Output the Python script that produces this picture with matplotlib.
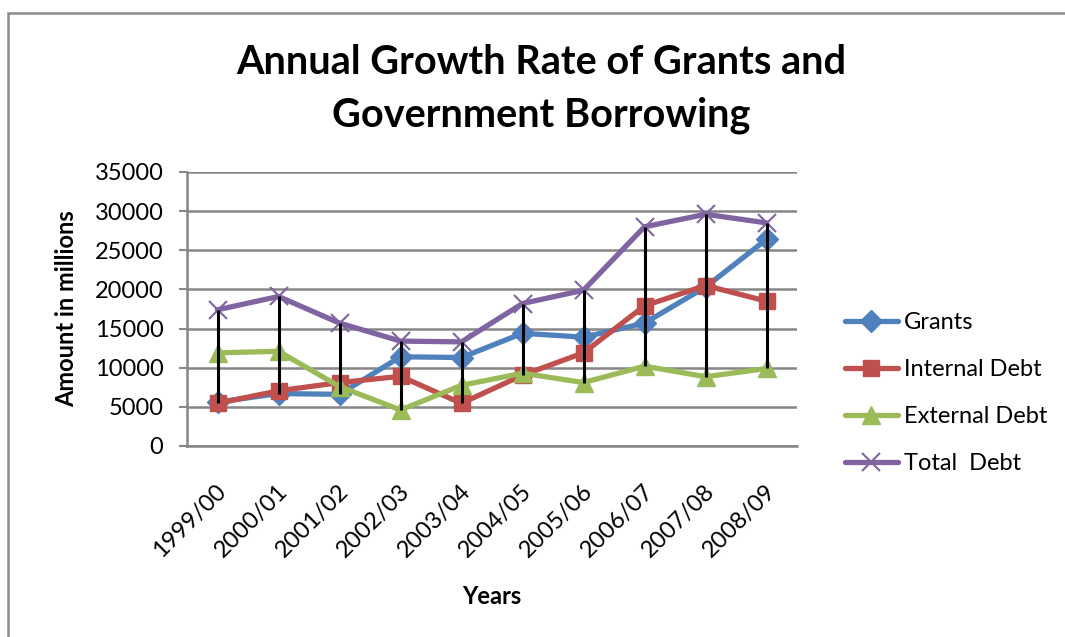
import numpy as np
import matplotlib
matplotlib.use("Agg")
import matplotlib.pyplot as plt
from matplotlib.patches import Rectangle
from matplotlib.transforms import ScaledTranslation

plt.rcParams["font.family"] = ["Lato", "DejaVu Sans"]

# ---- data ----
years = ["1999/00", "2000/01", "2001/02", "2002/03", "2003/04",
         "2004/05", "2005/06", "2006/07", "2007/08", "2008/09"]
grants = [5600, 6700, 6600, 11400, 11300, 14400, 13900, 15700, 20300, 26400]
internal_debt = [5450, 7050, 8100, 8900, 5450, 9050, 11900, 17900, 20500, 18500]
external_debt = [11900, 12100, 7600, 4600, 7750, 9300, 8100, 10200, 8850, 9900]
total_debt = [17400, 19100, 15700, 13400, 13300, 18200, 19900, 28000, 29600, 28500]

series = [
    ("Grants", grants, "#4F81BD", "D", 11),
    ("Internal Debt", internal_debt, "#C0504D", "s", 12),
    ("External Debt", external_debt, "#9BBB59", "^", 13),
    ("Total  Debt", total_debt, "#8064A2", "x", 13),
]

W, H = 1065, 637
fig = plt.figure(figsize=(W / 100, H / 100), dpi=100)
ax = fig.add_axes([187 / W, 1 - 446 / H, (797 - 187) / W, (446 - 172) / H])

x = np.arange(len(years))
for name, vals, color, marker, ms in series:
    kw = dict(markeredgewidth=1.5) if marker == "x" else dict(markeredgecolor=color)
    ax.plot(x, vals, color=color, lw=3.8, marker=marker, ms=ms,
            label=name, solid_capstyle="round", zorder=3, **kw)

# high-low lines across all series
allv = np.array([grants, internal_debt, external_debt, total_debt])
ax.vlines(x, allv.min(axis=0), allv.max(axis=0), colors="black", lw=2.2, zorder=5)

ax.set_xlim(-0.5, len(years) - 0.5)
ax.set_ylim(0, 35000)
ax.set_yticks(np.arange(0, 35001, 5000))
ax.yaxis.grid(True, color="#868686", lw=1.8)
ax.set_axisbelow(True)
for s in ["top", "right"]:
    ax.spines[s].set_visible(False)
for s in ["left", "bottom"]:
    ax.spines[s].set_color("#868686")
    ax.spines[s].set_linewidth(1.8)
ax.tick_params(axis="y", length=6, width=1.5, color="#868686", labelsize=17, pad=11)
ax.tick_params(axis="x", length=0, labelsize=17, pad=30)
ax.set_xticks(x)
ax.set_xticklabels(years, rotation=45, ha="right", va="center", rotation_mode="anchor")
off = ScaledTranslation(4 / 72, 0, fig.dpi_scale_trans)
for lab in ax.get_xticklabels():
    lab.set_transform(lab.get_transform() + off)

ax.set_ylabel("Amount in millions", fontsize=17, fontweight="bold", labelpad=12)
fig.text(492 / W, 1 - 596 / H, "Years", fontsize=17, fontweight="bold",
         ha="center", va="center")

fig.text(541 / W, 1 - 62 / H, "Annual Growth Rate of Grants and",
         fontsize=28.5, fontweight="bold", ha="center", va="center")
fig.text(541 / W, 1 - 115 / H, "Government Borrowing",
         fontsize=28.5, fontweight="bold", ha="center", va="center")

fig.legend(loc="center left", bbox_to_anchor=(826 / W, 1 - 393 / H), frameon=False,
           fontsize=17, handlelength=2.25, labelspacing=1.1, handletextpad=0.25,
           borderpad=0.3)

# outer chart border (cropped on right and bottom)
fig.patches.append(Rectangle((8 / W, -0.1), 1.2, 1 - 13 / H + 0.1,
                             transform=fig.transFigure, fill=False,
                             edgecolor="#8c8c8c", lw=1.8))

fig.savefig("out.png", dpi=100)
